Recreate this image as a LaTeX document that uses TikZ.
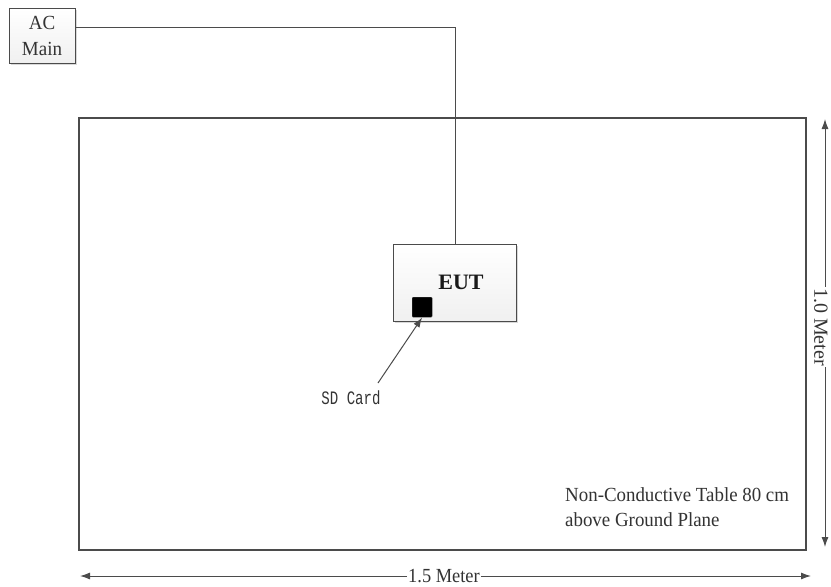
\documentclass[tikz,border=0pt]{standalone}
\usepackage{fontspec}
\setmainfont{Liberation Serif}
\setmonofont{Liberation Mono}
\usetikzlibrary{arrows.meta,shadows}
\definecolor{linegray}{RGB}{75,75,75}
\definecolor{boxgray}{RGB}{240,240,240}
\tikzset{
  boxnode/.style={draw=linegray, line width=1.2pt, top color=white, bottom color=boxgray,
    drop shadow={shadow xshift=1.5pt, shadow yshift=-1.5pt, opacity=0.3}, inner sep=0pt, anchor=north west},
  wire/.style={draw=linegray, line width=0.9pt},
  dimarrow/.style={draw=linegray, line width=1pt},
  tip/.style={-{Latex[length=10pt,width=7pt]}},
  lbl/.style={font=\fontsize{20}{22}\selectfont, text=black!80, inner sep=0pt}
}
\begin{document}
\begin{tikzpicture}[x=1pt,y=-1pt]
\useasboundingbox (0,0) rectangle (831,587);
% table
\node[draw=linegray, line width=2.4pt, minimum width=727pt, minimum height=432pt, anchor=north west, inner sep=0pt,
  drop shadow={shadow xshift=1pt, shadow yshift=-1pt, opacity=0.3}, fill=white] (table) at (78,117) {};
% AC main
\node[boxnode, minimum width=66pt, minimum height=55pt] (ac) at (9,8) {};
\node[lbl, align=center, font=\fontsize{20}{26}\selectfont] (actext) at (42,35.5) {\scalebox{0.95}[1]{AC}\\\scalebox{0.95}[1]{Main}};
% EUT
\node[boxnode, minimum width=123pt, minimum height=77pt] (eut) at (393,244) {};
\node[font=\bfseries\fontsize{22}{24}\selectfont, inner sep=0pt, text=black!90] (euttext) at (461,282) {EUT};
\node[fill=black, draw=black!70, minimum size=20pt, inner sep=0pt, anchor=north west, rounded corners=1pt] (sd) at (412,297) {};
% wire
\coordinate (bend) at (455,27);
\draw[wire] (ac.east |- bend) -- (bend) -- (eut.north -| bend);
% SD card label
\node[font=\ttfamily\fontsize{19}{21}\selectfont, text=black!80, inner sep=1pt] (sdlabel) at (351,398) {\scalebox{0.74}[1]{SD Card}};
\coordinate (sdtail) at (378,383);
\draw[draw=linegray, line width=1pt, tip] (sdtail) -- (sd.south);
% table note
\node[lbl, anchor=west, align=left, font=\fontsize{20}{25}\selectfont] (note) at (565,507.5) {\scalebox{0.945}[1]{Non-Conductive Table 80 cm}\\\scalebox{0.945}[1]{above Ground Plane}};
% dimension horizontal
\coordinate (hl) at (80,576);
\coordinate (hr) at (811,576);
\node[lbl, inner xsep=1pt] (hlabel) at (444,576) {\scalebox{0.92}[1]{1.5 Meter}};
\draw[dimarrow, tip] (hlabel.east) -- (hr);
\draw[dimarrow, tip] (hlabel.west) -- (hl);
% dimension vertical
\coordinate (vt) at (825,119);
\coordinate (vb) at (825,547);
\node[lbl, rotate=-90, inner xsep=1pt, inner ysep=0pt] (vlabel) at (821,327) {1.0 Meter};
\draw[dimarrow, tip] (vlabel.west -| vt) -- (vt);
\draw[dimarrow, tip] (vlabel.east -| vb) -- (vb);
\end{tikzpicture}
\end{document}
